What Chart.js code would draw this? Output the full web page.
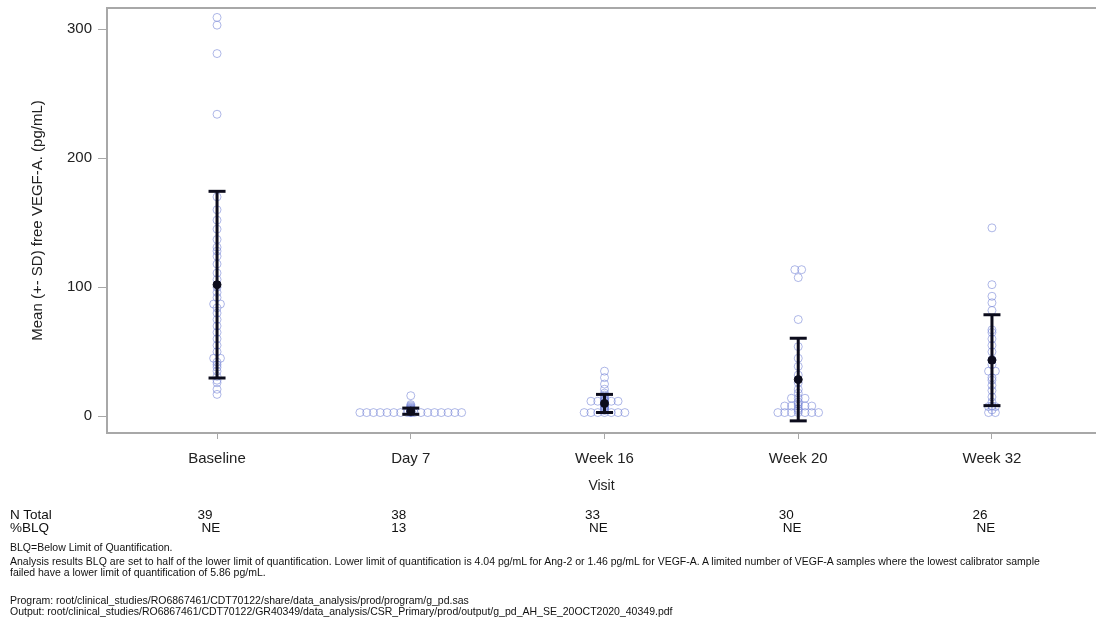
<!DOCTYPE html>
<html>
<head>
<meta charset="utf-8">
<title>Free VEGF-A by visit</title>
<script src="https://cdn.jsdelivr.net/npm/chart.js@4.4.1/dist/chart.umd.min.js"></script>
<style>
  html, body { margin: 0; padding: 0; background: #ffffff; }
  #wrap { position: relative; width: 1096px; height: 627px; overflow: hidden;
          font-family: "Liberation Sans", Arial, sans-serif; color: #111; }
  #c { position: absolute; left: 0; top: 0; }
  .cell { position: absolute; font-size: 13.5px; line-height: 14px; white-space: nowrap; }
  .note { position: absolute; left: 10px; font-size: 10.5px; line-height: 11px; white-space: nowrap; }
</style>
</head>
<body>
<div id="wrap">
  <canvas id="c" width="1096" height="627"></canvas>
  <div id="table"></div>
  <div class="note" style="top:542px">BLQ=Below Limit of Quantification.</div>
  <div class="note" style="top:556px">Analysis results BLQ are set to half of the lower limit of quantification. Lower limit of quantification is 4.04 pg/mL for Ang-2 or 1.46 pg/mL for VEGF-A. A limited number of VEGF-A samples where the lowest calibrator sample</div>
  <div class="note" style="top:567px">failed have a lower limit of quantification of 5.86 pg/mL.</div>
  <div class="note" style="top:595px">Program: root/clinical_studies/RO6867461/CDT70122/share/data_analysis/prod/program/g_pd.sas</div>
  <div class="note" style="top:606px">Output: root/clinical_studies/RO6867461/CDT70122/GR40349/data_analysis/CSR_Primary/prod/output/g_pd_AH_SE_20OCT2020_40349.pdf</div>
</div>
<script>
// Visits on the x axis
const visits = ["Baseline", "Day 7", "Week 16", "Week 20", "Week 32"];

// Mean and SD of free VEGF-A (pg/mL) per visit
const means = [102.0, 4.0, 10.0, 28.5, 43.5];
const sds   = [72.3, 2.4, 7.0, 32.0, 35.2];

// Individual subject values (pg/mL) per visit
const baseline = [309, 303, 281, 234, 170, 160, 152, 145, 137, 131, 128, 124, 118, 111, 106,
                  100, 96, 92, 87, 87, 84, 80, 75, 70, 65, 60, 55, 50, 45, 45, 42, 40, 38, 35,
                  31, 28, 26, 21, 17];
const day7 = [16, 9.1, 8.2, 7.4, 6.8, 6.3, 5.9, 5.5, 5.2, 4.9, 4.6, 4.4, 4.2, 4.0, 3.8, 3.6,
              3.5, 3.4, 3.3, 3.2, 3.1, 3.0,
              2.93, 2.93, 2.93, 2.93, 2.93, 2.93, 2.93, 2.93, 2.93, 2.93, 2.93, 2.93, 2.93, 2.93,
              2.93, 2.93];
const week16 = [35, 30, 25, 21, 18, 16.5, 15.5, 14, 13, 12.5, 12, 11.7, 11.7, 11.7, 11.7, 11.7,
                10, 9.6, 9.2, 8.5, 7.6, 7.2, 6.8, 6, 5.2, 4.5,
                2.93, 2.93, 2.93, 2.93, 2.93, 2.93, 2.93];
const week20 = [113.6, 113.6, 107.5, 75, 54, 45, 38.7, 32, 26, 21, 18, 14, 14, 14, 11, 9.5,
                8, 8, 8, 8, 8, 6, 4.5, 2.93, 2.93, 2.93, 2.93, 2.93, 2.93, 2.93];
const week32 = [146, 102, 93, 88, 82, 67, 65, 60, 55, 50, 44, 40, 35, 35, 30, 28, 24, 20, 15,
                11, 8, 7.5, 7.5, 5, 2.93, 2.93];
const subjectValues = [baseline, day7, week16, week20, week32];

// Summary rows under the plot
const pctBLQ = ["NE", "13", "NE", "NE", "NE"];

// Y axis ticks
const yTicks = [0, 100, 200, 300];

// Equal values at a visit are spread sideways so every marker stays visible
const JITTER_STEP = 0.035;
function jittered(values, visitIndex) {
  const counts = {}, seen = {};
  values.forEach(v => { const k = v.toFixed(2); counts[k] = (counts[k] || 0) + 1; });
  return values.map(v => {
    const k = v.toFixed(2);
    const idx = seen[k] = (seen[k] === undefined ? 0 : seen[k] + 1);
    const n = counts[k];
    return { x: visitIndex + (idx - (n - 1) / 2) * JITTER_STEP, y: v };
  });
}

const pointData = subjectValues.flatMap((vals, i) => jittered(vals, i));
const meanData = means.map((m, i) => ({ x: i, y: m }));
// Error bar segments: lower end, upper end, then a gap to break the line
const barData = means.flatMap((m, i) => [
  { x: i, y: m - sds[i] }, { x: i, y: m + sds[i] }, { x: i, y: null }
]);

const INK = "#0c0c1c";
const AXIS = "#a8a8a8";
const FONT = "Liberation Sans";

// Keep the plot frame exactly where the layout padding puts it
function noEdgePadding(s) {
  s.paddingTop = 0; s.paddingBottom = 0; s.paddingLeft = 0; s.paddingRight = 0;
}

const framePlugin = {
  id: "frameTop",
  afterDraw(chart) {
    const { ctx, chartArea } = chart;
    ctx.save();
    ctx.strokeStyle = AXIS;
    ctx.lineWidth = 2;
    ctx.beginPath();
    ctx.moveTo(chartArea.left, chartArea.top);
    ctx.lineTo(chartArea.right, chartArea.top);
    ctx.stroke();
    ctx.restore();
  }
};

const chart = new Chart(document.getElementById("c"), {
  type: "scatter",
  data: {
    datasets: [
      {
        label: "Mean ± SD",
        data: barData,
        showLine: true,
        spanGaps: false,
        borderColor: INK,
        borderWidth: 3,
        pointStyle: "line",
        pointRadius: 8.5,
        pointBorderWidth: 3,
        pointBorderColor: INK,
        pointHoverRadius: 8.5
      },
      {
        label: "Mean",
        data: meanData,
        pointStyle: "circle",
        pointRadius: 4,
        pointBackgroundColor: INK,
        pointBorderColor: INK,
        pointBorderWidth: 1
      },
      {
        label: "Subjects",
        data: pointData,
        pointStyle: "circle",
        pointRadius: 4,
        pointBorderWidth: 1,
        pointBorderColor: "rgba(120, 135, 215, 0.6)",
        pointBackgroundColor: "rgba(0, 0, 0, 0)"
      }
    ]
  },
  options: {
    responsive: false,
    animation: false,
    events: [],
    layout: { autoPadding: false, padding: { top: 8, right: 0, bottom: 132, left: 0 } },
    plugins: { legend: { display: false }, tooltip: { enabled: false } },
    scales: {
      x: {
        type: "linear",
        min: -0.568,
        max: 4.537,
        afterBuildTicks: s => { s.ticks = visits.map((_, i) => ({ value: i })); },
        afterFit: s => { s.height = 62; noEdgePadding(s); },
        ticks: {
          callback: v => visits[v],
          color: "#222",
          font: { family: FONT, size: 15 },
          padding: 11,
          maxRotation: 0
        },
        grid: { drawOnChartArea: false, drawTicks: true, tickLength: 6, tickColor: AXIS },
        border: { display: true, color: AXIS, width: 2 },
        title: {
          display: true,
          text: "Visit",
          color: "#222",
          font: { family: FONT, size: 14 },
          padding: { top: 0, bottom: 0 }
        }
      },
      y: {
        min: -12.9,
        max: 316.3,
        afterBuildTicks: s => { s.ticks = yTicks.map(v => ({ value: v })); },
        afterFit: s => { s.width = 107; noEdgePadding(s); },
        ticks: {
          color: "#222",
          font: { family: FONT, size: 15 },
          padding: 6
        },
        grid: { drawOnChartArea: false, drawTicks: true, tickLength: 9, tickColor: AXIS },
        border: { display: true, color: AXIS, width: 2 },
        title: {
          display: true,
          text: "Mean (+- SD) free VEGF-A. (pg/mL)",
          color: "#222",
          font: { family: FONT, size: 15 },
          padding: { top: 29, bottom: 0 }
        }
      }
    }
  },
  plugins: [framePlugin]
});

// N Total and %BLQ rows, aligned to the visit positions
const table = document.getElementById("table");
function addCell(text, left, top, centre) {
  const d = document.createElement("div");
  d.className = "cell";
  d.textContent = text;
  d.style.top = top + "px";
  table.appendChild(d);
  if (centre) d.style.left = (left - d.offsetWidth / 2) + "px";
  else d.style.left = left + "px";
}
addCell("N Total", 10, 508, false);
addCell("%BLQ", 10, 521, false);
visits.forEach((_, i) => {
  const px = chart.scales.x.getPixelForValue(i);
  addCell(String(subjectValues[i].length), px - 12, 508, true);
  addCell(pctBLQ[i], px - 12 + (pctBLQ[i] === "NE" ? 6 : 0), 521, true);
});
</script>
</body>
</html>
